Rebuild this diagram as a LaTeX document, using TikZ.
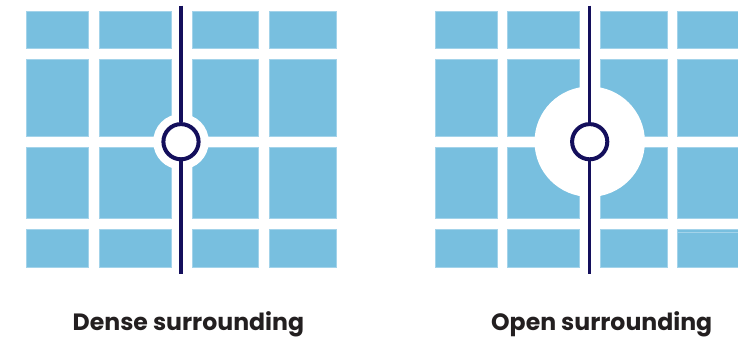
\documentclass[tikz,border=0pt]{standalone}
\usepackage{fontspec}
\setmainfont{Poppins}
\definecolor{tileblue}{HTML}{78BFDF}
\definecolor{tileedge}{HTML}{A3D3EA}
\definecolor{tracknavy}{HTML}{140F5C}
\definecolor{captiongray}{HTML}{231F20}
\tikzset{
  tilebox/.style={fill=tileblue, draw=tileedge, line width=0.6pt},
  trackline/.style={draw=tracknavy, line width=3.3pt},
  stopring/.style={circle, draw=tracknavy, fill=white, line width=4pt,
    minimum size=35.2pt, inner sep=0pt},
  captiontext/.style={font=\bfseries\fontsize{23.6}{28}\selectfont,
    text=captiongray, anchor=base}
}
\begin{document}
\begin{tikzpicture}[x=1pt, y=-1pt, line cap=butt]
  \useasboundingbox (0,0) rectangle (738,341);
  % blocks, dense side
  \foreach \ya/\yb in {11/48.3, 59.3/136.3, 147/218.7, 229.7/267.3}
    \foreach \xa/\xb in {26.3/88.3, 99/171, 192/258.7, 269.3/336.7}
      \filldraw[tilebox] (\xa,\ya) rectangle (\xb,\yb);
  % blocks, open side
  \foreach \ya/\yb in {11/48.3, 59.3/136.3, 147/218.7, 229.7/267.3}
    \foreach \xa/\xb in {435/497, 507.7/579.3, 600.3/667, 677.7/738.5}
      \filldraw[tilebox] (\xa,\ya) rectangle (\xb,\yb);
  \draw[tileedge, line width=0.8pt] (677.7,232) -- (738.5,232);
  % clearing round the stops
  \fill[white] (181,141.7) circle (27.8);
  \fill[white] (589.7,141.7) circle (55.2);
  % tracks and stops
  \coordinate (denseTop) at (181,5.7);
  \coordinate (denseBot) at (181,274);
  \coordinate (openTop) at (589.7,5.7);
  \coordinate (openBot) at (589.7,274);
  \node[stopring] (denseStop) at (181,141.7) {};
  \node[stopring] (openStop) at (589.7,141.7) {};
  \draw[trackline] (denseTop) -- (denseStop.north);
  \draw[trackline] (denseStop.south) -- (denseBot);
  \draw[trackline] (openTop) -- (openStop.north);
  \draw[trackline] (openStop.south) -- (openBot);
  % captions
  \node[captiontext] (denseLabel) at (188.4,330.7) {Dense surrounding};
  \node[captiontext] (openLabel) at (601.7,330.7) {Open surrounding};
\end{tikzpicture}
\end{document}
